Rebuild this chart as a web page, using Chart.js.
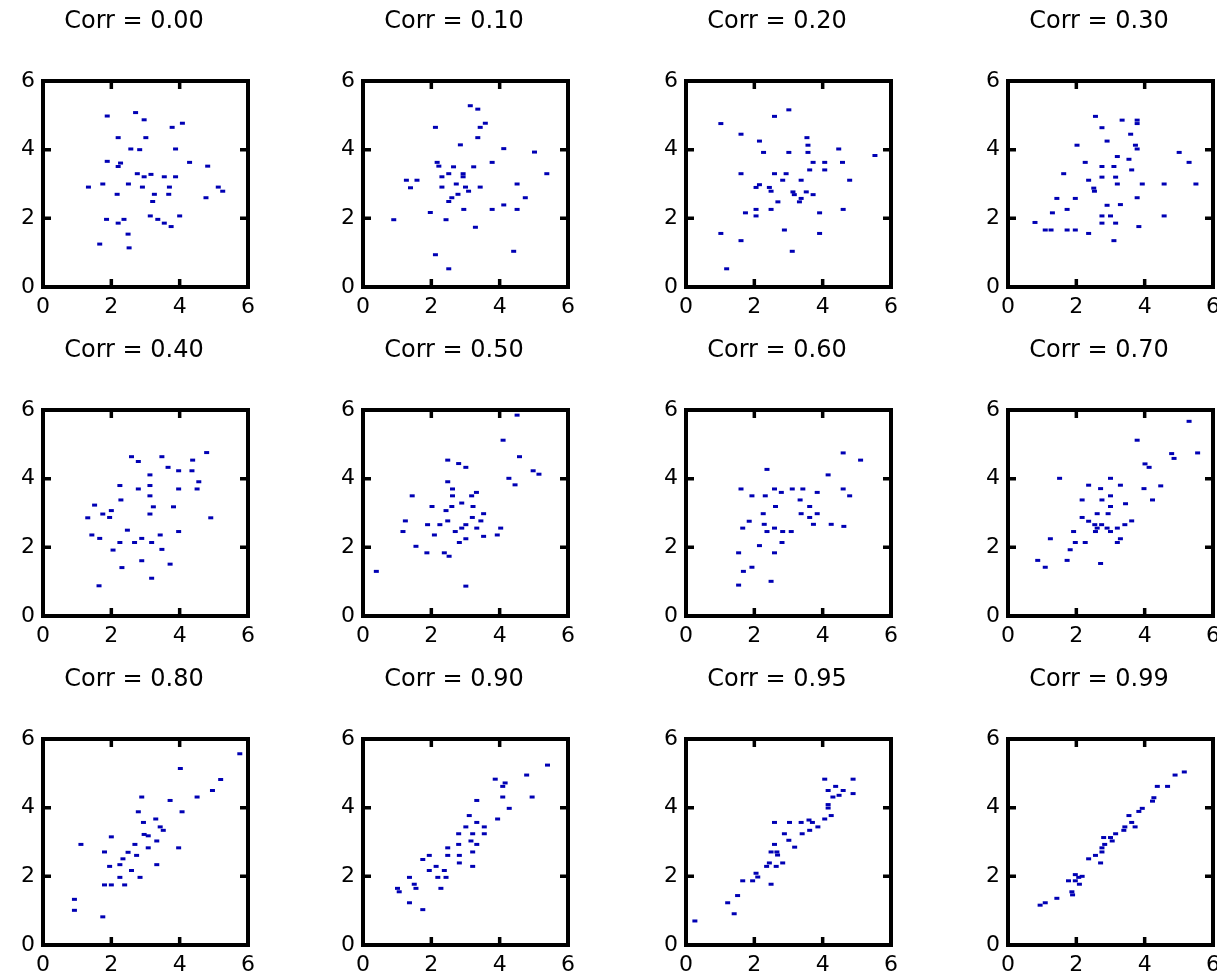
<!DOCTYPE html>
<html>
<head>
<meta charset="utf-8">
<script src="https://cdn.jsdelivr.net/npm/chart.js@4/dist/chart.umd.min.js"></script>
<style>
body{margin:0;background:#fff;width:1217px;height:971px;position:relative;overflow:hidden}
canvas{position:absolute}
</style>
</head>
<body>
<script>
const corrLabels=['0.00','0.10','0.20','0.30','0.40','0.50','0.60','0.70','0.80','0.90','0.95','0.99']
const tickValues=[0,2,4,6]

const x000=[2.71,1.88,2.96,4.08,3.78,2.20,3.01,2.57,2.83,3.88,1.88,2.27,2.20,4.29,4.82,2.76,3.16,2.96,3.55,3.88,1.75,2.50,1.33,2.91,3.70,5.13,5.26,2.17,3.26,3.68,4.77,3.21,3.14,4.00,3.36,3.55,3.75,1.86,2.37,2.20,2.49,1.66,2.52]
const y000=[5.08,4.98,4.87,4.77,4.65,4.35,4.35,4.02,4.00,4.02,3.66,3.61,3.51,3.63,3.52,3.30,3.28,3.21,3.21,3.21,3.00,3.00,2.91,2.91,2.91,2.91,2.79,2.70,2.70,2.70,2.60,2.49,2.07,2.07,1.97,1.86,1.76,1.97,1.97,1.86,1.54,1.25,1.14]

const x010=[3.14,3.36,3.58,3.43,2.12,3.36,2.85,4.12,5.02,3.78,2.17,2.22,2.65,3.24,2.51,2.93,2.31,2.93,5.38,1.27,1.58,2.73,4.51,1.39,2.31,3.00,3.43,3.09,2.78,2.60,2.51,4.75,4.12,2.95,3.78,4.51,1.97,0.90,2.43,3.29,4.41,2.12,2.51]
const y010=[5.28,5.18,4.77,4.65,4.65,4.35,4.14,4.03,3.93,3.63,3.63,3.52,3.50,3.50,3.30,3.30,3.21,3.21,3.30,3.11,3.11,3.00,3.00,2.89,2.91,2.91,2.91,2.79,2.70,2.60,2.49,2.60,2.39,2.26,2.26,2.26,2.17,1.96,1.96,1.74,1.04,0.94,0.53]

const x020=[3.01,2.59,1.02,1.61,2.15,3.54,3.57,2.27,3.01,3.57,4.47,5.53,4.06,3.72,4.58,3.62,4.06,1.61,2.59,2.93,2.83,3.37,4.79,2.15,2.05,2.44,2.49,3.13,3.52,3.17,3.72,3.37,2.69,3.32,2.05,2.49,4.60,1.74,2.05,3.91,2.88,3.91,1.02,1.61,3.11,1.19]
const y020=[5.16,4.97,4.76,4.45,4.25,4.35,4.13,3.92,3.92,3.92,4.02,3.83,3.63,3.63,3.63,3.41,3.41,3.30,3.30,3.30,3.11,3.11,3.11,2.98,2.90,2.90,2.79,2.77,2.77,2.69,2.69,2.58,2.48,2.48,2.26,2.26,2.26,2.16,2.07,2.16,1.66,1.56,1.56,1.35,1.04,0.53]

const x030=[2.56,3.34,3.78,3.78,2.75,3.59,2.90,2.02,3.73,3.78,5.01,5.30,3.20,3.54,2.26,2.75,3.10,3.62,1.63,2.75,3.15,2.36,3.20,3.93,4.57,5.50,2.51,2.53,1.43,1.97,3.78,2.90,3.29,1.73,1.30,2.75,3.00,4.57,0.79,2.75,3.15,3.83,1.09,1.73,2.36,3.10,1.26,1.97]
const y030=[4.97,4.86,4.86,4.76,4.64,4.45,4.25,4.13,4.13,4.02,3.92,3.63,3.80,3.72,3.63,3.51,3.51,3.41,3.30,3.20,3.20,3.11,3.00,3.00,3.00,3.00,2.88,2.79,2.58,2.58,2.60,2.38,2.40,2.26,2.16,2.07,2.07,2.07,1.88,1.86,1.86,1.76,1.66,1.66,1.56,1.35,1.66,1.66]

const x040=[4.79,4.38,3.48,2.59,2.79,3.66,3.97,4.36,3.13,4.56,2.25,3.13,2.79,3.97,4.51,3.13,2.28,1.51,3.23,3.82,2.00,1.75,1.95,3.13,1.31,4.91,2.47,1.43,1.66,2.89,3.43,3.97,2.25,2.68,3.18,3.48,2.05,2.89,3.72,2.31,3.18,1.64]
const y040=[4.76,4.54,4.64,4.64,4.50,4.33,4.23,4.23,4.11,3.91,3.80,3.80,3.70,3.70,3.70,3.50,3.38,3.23,3.18,3.18,3.07,2.97,2.87,2.97,2.86,2.86,2.50,2.36,2.26,2.26,2.36,2.46,2.14,2.14,2.14,1.94,1.92,1.61,1.51,1.41,1.10,0.88]

const x050=[4.51,4.10,4.58,2.48,2.80,3.01,4.98,5.15,4.27,4.45,2.48,2.62,3.32,1.44,2.62,3.18,2.89,2.02,2.60,3.22,2.43,3.53,3.20,1.24,2.48,3.45,1.89,2.25,3.01,3.33,2.89,4.03,1.17,2.70,2.09,3.53,3.93,3.01,2.82,1.55,1.87,2.38,2.52,0.39,3.01]
const y050=[5.85,5.12,4.64,4.54,4.44,4.33,4.23,4.13,4.01,3.82,3.91,3.70,3.60,3.50,3.50,3.50,3.29,3.19,3.19,3.19,3.07,2.98,2.87,2.77,2.77,2.77,2.66,2.66,2.66,2.56,2.56,2.56,2.46,2.46,2.36,2.32,2.36,2.25,2.14,2.03,1.84,1.84,1.74,1.30,0.87]

const x060=[4.60,5.11,2.37,4.16,1.61,2.59,3.11,3.42,4.60,2.79,3.84,1.93,2.32,4.79,3.34,2.62,3.62,2.26,3.84,3.37,3.62,1.85,2.29,3.73,4.25,4.62,1.66,2.59,2.37,2.83,3.08,2.15,2.81,1.54,2.59,1.93,1.68,2.49,1.54]
const y060=[4.75,4.54,4.27,4.11,3.70,3.70,3.70,3.70,3.70,3.60,3.60,3.50,3.50,3.50,3.38,3.19,3.19,2.98,2.98,2.98,2.87,2.76,2.67,2.67,2.67,2.61,2.56,2.56,2.46,2.46,2.46,2.05,2.14,1.84,1.84,1.42,1.30,1.01,0.90]

const x070=[3.78,4.79,4.86,5.30,5.55,4.01,4.13,1.51,3.00,2.36,2.71,3.29,3.98,4.47,2.17,2.75,3.00,4.23,3.44,3.00,2.61,2.93,2.17,2.36,2.54,2.74,3.62,3.42,2.61,2.90,3.20,2.56,3.00,1.92,1.24,3.29,3.20,1.97,2.26,1.82,0.87,1.73,2.71,1.09]
const y070=[5.12,4.73,4.59,5.67,4.75,4.43,4.33,4.01,4.01,3.81,3.71,3.81,3.71,3.79,3.38,3.38,3.50,3.38,3.27,3.19,2.98,2.98,2.87,2.76,2.66,2.66,2.77,2.66,2.56,2.56,2.56,2.46,2.46,2.46,2.25,2.25,2.14,2.14,2.14,1.93,1.62,1.62,1.53,1.42]

const x080=[5.76,4.02,5.20,4.96,4.51,2.89,3.72,2.79,4.07,3.30,2.94,3.43,3.52,2.96,3.08,2.00,3.33,1.11,2.69,3.08,3.97,1.80,2.49,2.74,2.34,2.25,3.33,1.95,2.59,2.25,2.84,2.39,1.80,2.00,0.92,0.92,1.75]
const y080=[5.57,5.14,4.82,4.50,4.31,4.31,4.21,3.88,3.88,3.67,3.57,3.44,3.34,3.22,3.18,3.15,3.03,2.93,2.93,2.83,2.83,2.71,2.70,2.61,2.51,2.34,2.34,2.29,2.17,1.97,1.97,1.75,1.75,1.75,1.33,1.01,0.82]

const x090=[5.40,4.79,3.87,4.16,4.09,4.95,4.09,3.33,4.28,3.11,3.94,3.33,3.01,3.55,2.80,3.21,3.55,3.16,3.33,2.48,2.80,3.21,1.94,2.48,2.82,1.75,2.82,3.21,2.14,2.38,1.94,2.43,2.19,1.36,1.50,1.01,2.28,1.55,1.06,1.36,1.75]
const y090=[5.24,4.95,4.83,4.72,4.62,4.31,4.31,4.21,3.98,3.77,3.67,3.57,3.44,3.44,3.24,3.24,3.24,3.03,2.93,2.83,2.93,2.71,2.61,2.61,2.61,2.49,2.39,2.29,2.29,2.17,2.17,1.97,1.97,1.97,1.77,1.65,1.65,1.65,1.55,1.23,1.03]

const x095=[4.06,4.89,4.38,4.16,4.60,4.89,4.48,4.30,4.16,4.16,4.25,4.06,2.59,3.03,3.37,3.60,3.70,3.86,3.62,2.88,3.40,3.01,2.59,3.18,2.66,2.49,2.68,2.44,2.64,2.83,2.36,2.05,2.10,1.95,1.66,2.49,1.51,1.22,1.41,0.26]
const y095=[4.83,4.83,4.62,4.50,4.50,4.41,4.36,4.31,4.09,3.99,3.77,3.67,3.57,3.57,3.57,3.64,3.57,3.44,3.34,3.24,3.24,3.05,2.93,2.85,2.71,2.71,2.62,2.39,2.29,2.39,2.29,2.09,1.98,1.87,1.87,1.77,1.44,1.23,0.91,0.70]

const x099=[5.16,4.89,4.37,4.67,4.27,4.23,3.93,3.83,3.54,3.62,3.72,3.42,3.39,3.15,3.00,2.80,3.05,2.83,2.75,2.75,2.56,2.36,2.71,1.97,2.07,1.77,1.97,2.09,1.87,1.89,1.43,1.09,0.94,2.17]
const y099=[5.04,4.95,4.62,4.62,4.29,4.19,3.98,3.89,3.77,3.57,3.44,3.44,3.34,3.24,3.13,3.13,3.03,2.93,2.83,2.71,2.61,2.51,2.39,2.05,1.97,1.87,1.87,1.77,1.55,1.46,1.36,1.23,1.16,2.00]

const xsets=[x000,x010,x020,x030,x040,x050,x060,x070,x080,x090,x095,x099]
const ysets=[y000,y010,y020,y030,y040,y050,y060,y070,y080,y090,y095,y099]

// plot box positions (left/top of the axes box on the page)
const colLeft=[43,363,686,1008]
const rowTop=[81,410,739]
const boxW=205, boxH=206
const padL=40, padT=80, padR=15, padB=35
const shiftL=17 // moves the title centre right; y scale keeps 23px for its labels (they get clipped to the scale box)

// black box with inward ticks on all four sides, like matlab axes
const frame={
  id:'frame',
  afterDatasetsDraw(chart){
    const {ctx,chartArea:a,scales:{x,y}}=chart
    ctx.save()
    ctx.strokeStyle='#000'
    ctx.lineWidth=4
    ctx.strokeRect(a.left,a.top,a.right-a.left,a.bottom-a.top)
    ctx.lineWidth=3.5
    ctx.beginPath()
    x.ticks.forEach(t=>{
      const px=x.getPixelForValue(t.value)
      ctx.moveTo(px,a.bottom);ctx.lineTo(px,a.bottom-8)
      ctx.moveTo(px,a.top);ctx.lineTo(px,a.top+8)
    })
    y.ticks.forEach(t=>{
      const py=y.getPixelForValue(t.value)
      ctx.moveTo(a.left,py);ctx.lineTo(a.left+8,py)
      ctx.moveTo(a.right,py);ctx.lineTo(a.right-8,py)
    })
    ctx.stroke()
    ctx.restore()
  }
}

const tickFont={family:'DejaVu Sans',size:22}

corrLabels.forEach((lab,i)=>{
  const c=document.createElement('canvas')
  const w=padL+boxW+padR, h=padT+boxH+padB
  c.width=w;c.height=h
  c.style.left=(colLeft[i%4]-padL)+'px'
  c.style.top=(rowTop[Math.floor(i/4)]-padT)+'px'
  c.style.width=w+'px';c.style.height=h+'px'
  document.body.appendChild(c)

  const pts=xsets[i].map((v,k)=>({x:v,y:ysets[i][k]}))

  new Chart(c,{
    type:'scatter',
    data:{datasets:[{
      data:pts,
      pointStyle:'line',
      pointRadius:2.5,
      pointBorderWidth:3,
      borderColor:'#0000b4',
      backgroundColor:'#0000b4'
    }]},
    options:{
      responsive:false,
      animation:false,
      events:[],
      layout:{padding:{left:shiftL,top:0,right:padR,bottom:0}},
      plugins:{
        legend:{display:false},
        tooltip:{enabled:false},
        title:{
          display:true,
          text:'Corr = '+lab,
          color:'#000',
          font:{family:'DejaVu Sans',size:24,weight:'normal',lineHeight:1.2},
          padding:{top:6.6,bottom:44.6}
        }
      },
      scales:{
        x:{
          type:'linear',min:0,max:6,
          afterBuildTicks(s){s.ticks=tickValues.map(v=>({value:v}))},
          afterFit(s){s.height=padB},
          grid:{display:false,drawTicks:false},
          border:{display:false},
          ticks:{color:'#000',font:tickFont,padding:7,maxRotation:0,autoSkip:false}
        },
        y:{
          type:'linear',min:0,max:6,
          afterBuildTicks(s){s.ticks=tickValues.map(v=>({value:v}))},
          afterFit(s){s.width=padL-shiftL},
          grid:{display:false,drawTicks:false},
          border:{display:false},
          ticks:{color:'#000',font:tickFont,padding:8,autoSkip:false}
        }
      }
    },
    plugins:[frame]
  })
})
</script>
</body>
</html>
